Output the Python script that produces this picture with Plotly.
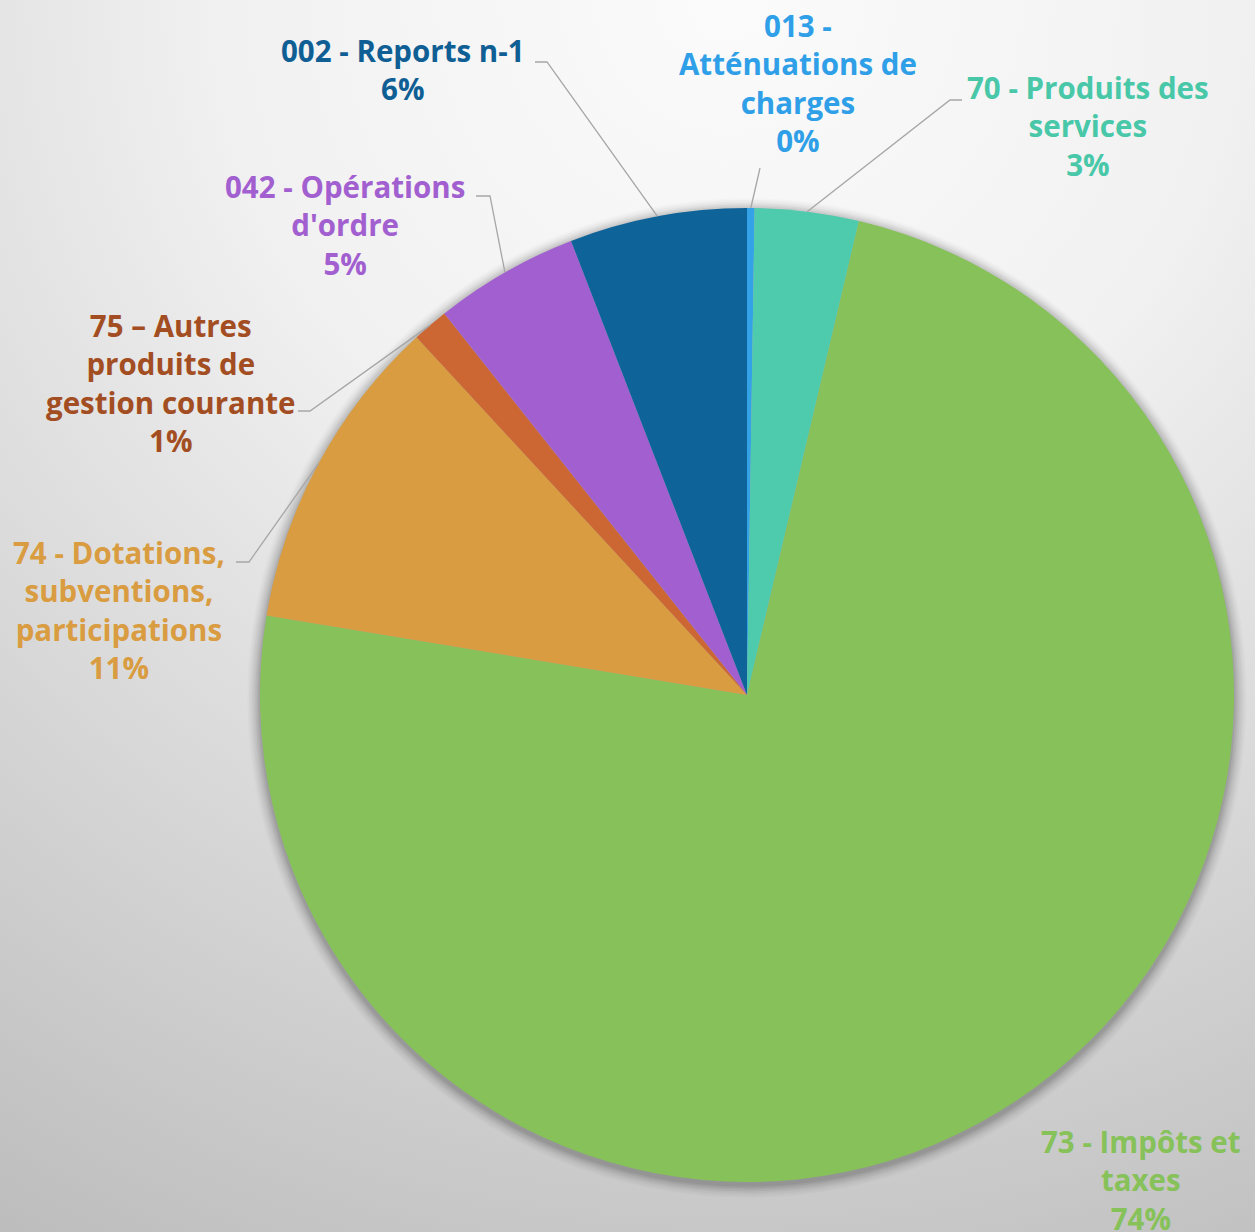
import base64
import numpy as np
import plotly.graph_objects as go

# ---------------- data ----------------
categories = [
    "013 - Atténuations de charges",
    "70 - Produits des services",
    "73 - Impôts et taxes",
    "74 - Dotations, subventions, participations",
    "75 – Autres produits de gestion courante",
    "042 - Opérations d'ordre",
    "002 - Reports n-1",
]
display_labels = [
    "013 -<br>Atténuations de<br>charges",
    "70 - Produits des<br>services",
    "73 - Impôts et<br>taxes",
    "74 - Dotations,<br>subventions,<br>participations",
    "75 – Autres<br>produits de<br>gestion courante",
    "042 - Opérations<br>d'ordre",
    "002 - Reports n-1",
]
values = [0.25, 3.45, 74.1, 10.55, 1.2, 4.8, 5.9]

slice_colors = ["#34a2e6", "#4ecaad", "#86c159", "#d99c40", "#cc6633", "#a25fd0", "#0e6399"]
label_colors = ["#2f9fe8", "#48c8a8", "#86c159", "#d99c40", "#a34e22", "#a25fd0", "#0f5f95"]

# ---------------- layout geometry (pixels) ----------------
W, H = 1255, 1232
CX, CY, R = 747, 695, 487

# label block centres and leader-line elbows (pixel positions)
label_pos = [(798, 83), (1088, 126), (1141, 1180), (119, 610), (171, 383), (345, 225), (403, 70)]
elbows = [
    [(760, 168)],
    [(950, 100), (962, 100)],
    None,
    [(249, 562), (236, 562)],
    [(310, 411), (298, 411)],
    [(490, 196), (476, 196)],
    [(547, 62), (535, 62)],
]

def px(x):
    return x / W

def py(y):
    return 1 - y / H

fig = go.Figure()

fig.add_trace(go.Pie(
    labels=categories,
    values=values,
    sort=False,
    direction="clockwise",
    rotation=0,
    marker=dict(colors=slice_colors, line=dict(width=0)),
    textinfo="none",
    textposition="none",
    showlegend=False,
    hoverinfo="label+percent",
    domain=dict(x=[px(CX - R), px(CX + R)], y=[py(CY + R), py(CY - R)]),
))

# background gradient
svg = (
    '<svg xmlns="http://www.w3.org/2000/svg" width="1255" height="1232">'
    '<defs><radialGradient id="g" cx="0.58" cy="0.0" r="1.15" gradientUnits="objectBoundingBox">'
    '<stop offset="0" stop-color="#fbfbfb"/><stop offset="0.35" stop-color="#f1f1f1"/>'
    '<stop offset="1" stop-color="#bdbdbd"/></radialGradient></defs>'
    '<rect width="1255" height="1232" fill="url(#g)"/></svg>'
)
src = "data:image/svg+xml;base64," + base64.b64encode(svg.encode()).decode()
fig.add_layout_image(dict(source=src, xref="paper", yref="paper", x=0, y=1,
                          sizex=1, sizey=1, sizing="stretch", layer="below"))

shapes = []
# soft shadow around the pie
for k, a in zip(range(1, 9), [0.06, 0.05, 0.045, 0.04, 0.03, 0.025, 0.02, 0.015]):
    rr = R + k * 1.6
    shapes.append(dict(type="circle", xref="paper", yref="paper",
                       x0=px(CX - rr), x1=px(CX + rr), y0=py(CY + rr + 3), y1=py(CY - rr + 3),
                       fillcolor=f"rgba(0,0,0,{a})", line=dict(width=0), layer="below"))

# leader lines from slice mid-angle on the rim
vals = np.array(values)
cum = np.cumsum(vals) - vals / 2
mid_frac = cum / vals.sum()
for frac, pts in zip(mid_frac, elbows):
    if pts is None:
        continue
    ang = 2 * np.pi * frac
    sx, sy = CX + R * np.sin(ang), CY - R * np.cos(ang)
    path_pts = [(sx, sy)] + pts
    path = "M " + " L ".join(f"{px(x):.5f},{py(y):.5f}" for x, y in path_pts)
    shapes.append(dict(type="path", xref="paper", yref="paper", path=path,
                       line=dict(color="#a6a6a6", width=1.3)))

annotations = []
total = vals.sum()
for lab, v, (lx, ly), col in zip(display_labels, values, label_pos, label_colors):
    pct = f"{round(v / total * 100)}%"
    annotations.append(dict(
        x=px(lx), y=py(ly), xref="paper", yref="paper",
        text=f"{lab}<br>{pct}", showarrow=False, align="center",
        xanchor="center", yanchor="middle",
        font=dict(family="Open Sans", size=29.5, color=col, weight="bold"),
    ))

fig.update_layout(
    width=W, height=H,
    margin=dict(l=0, r=0, t=0, b=0),
    paper_bgcolor="#e6e6e6",
    plot_bgcolor="rgba(0,0,0,0)",
    shapes=shapes,
    annotations=annotations,
)

fig.write_html("out.html", config={"displayModeBar": False},
               post_script="document.body.style.margin='0';document.body.style.overflow='hidden';")
